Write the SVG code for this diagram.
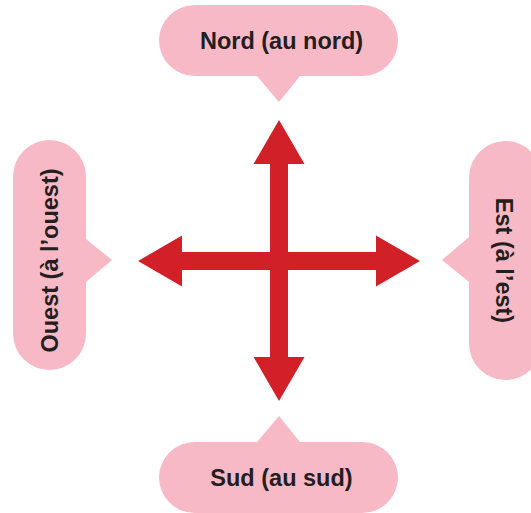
<svg xmlns="http://www.w3.org/2000/svg" width="531" height="513" viewBox="0 0 531 513">
<style>
.bubble{fill:#F8B9C6;stroke:none}
.label{font-family:"Liberation Sans",Arial,sans-serif;font-weight:bold;font-size:23.5px;fill:#231F20;text-anchor:middle}
.arrow{fill:#D12027;stroke:none}
</style>
<rect width="531" height="513" fill="#FFFFFF"/>
<g id="connectors">
<path class="arrow" d="M279,120 L304.5,164 H288 V357 H304.5 L279,401 L253.5,357 H270 V164 H253.5 Z"/>
<path class="arrow" d="M138,261 L182,235.5 V252 H376 V235.5 L420,261 L376,286.5 V270 H182 V286.5 Z"/>
</g>
<g id="nord">
<path class="bubble" d="M194.5,5 H362.5 A35.5,35.5 0 0 1 362.5,76 H300 L279,102 L257,76 H194.5 A35.5,35.5 0 0 1 194.5,5 Z"/>
<text class="label" x="281.5" y="48.5">Nord (au nord)</text>
</g>
<g id="sud">
<path class="bubble" d="M194.5,442 H257 L279,416 L300,442 H362.5 A35.5,35.5 0 0 1 362.5,513 H194.5 A35.5,35.5 0 0 1 194.5,442 Z"/>
<text class="label" x="281.5" y="486">Sud (au sud)</text>
</g>
<g id="ouest">
<path class="bubble" d="M13,176.5 A36.5,36.5 0 0 1 86,176.5 V239 L112,260 L86,282 V333.5 A36.5,36.5 0 0 1 13,333.5 Z"/>
<text class="label" transform="translate(58,260.5) rotate(-90)" x="0" y="0">Ouest (à l’ouest)</text>
</g>
<g id="est">
<path class="bubble" d="M469,177.5 A36.5,36.5 0 0 1 542,177.5 V343.5 A36.5,36.5 0 0 1 469,343.5 V282 L442,260 L469,237 Z"/>
<text class="label" transform="translate(496,260.5) rotate(90)" x="0" y="0">Est (à l’est)</text>
</g>
</svg>
